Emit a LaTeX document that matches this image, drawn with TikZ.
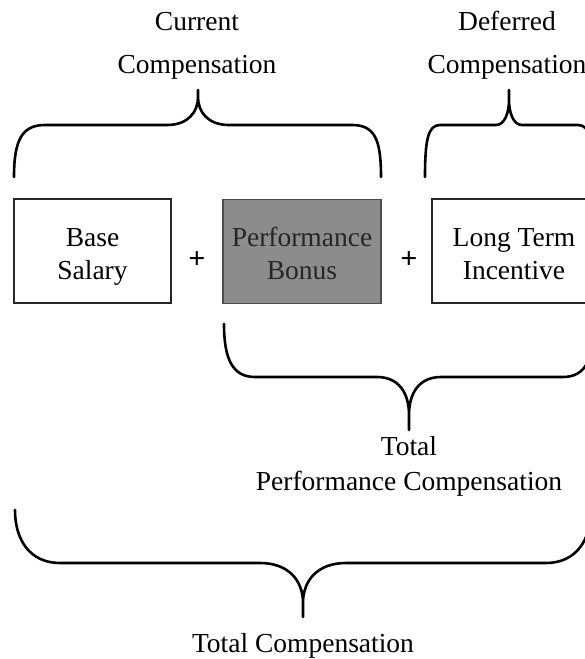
\documentclass[tikz,border=0pt]{standalone}
\usepackage{fontspec}
\setmainfont{Liberation Serif}
\begin{document}
\begin{tikzpicture}[x=1pt,y=-1pt,
  lbl/.style={anchor=base,inner sep=0pt,font=\fontsize{27.5}{33}\selectfont},
  boxtxt/.style={anchor=base,inner sep=0pt,font=\fontsize{27.5}{33}\selectfont},
  plussign/.style={anchor=base,inner sep=0pt,font=\fontsize{30}{33}\selectfont\bfseries},
  box/.style={draw=black!85,line width=1.4pt,minimum height=104pt,inner sep=0pt},
  brace/.style={line width=2.6pt,line cap=round,line join=round}]
\useasboundingbox (0,0) rectangle (585,659);
\clip (0,0) rectangle (585,659);

% boxes
\node[box,minimum width=157pt] (base) at (92.5,251) {};
\node[box,minimum width=158pt,fill=black!45,draw=black!70] (perf) at (302,251.5) {};
\node[box,minimum width=160pt] (lt) at (512,251) {};

\node[boxtxt] (base1) at (92.5,246) {Base};
\node[boxtxt] (base2) at (92.5,279) {Salary};
\node[boxtxt,text=black!85] (perf1) at (302,246) {Performance};
\node[boxtxt,text=black!85] (perf2) at (302,279) {Bonus};
\node[boxtxt] (lt1) at (514,246) {Long Term};
\node[boxtxt] (lt2) at (514,279) {Incentive};

\node[plussign] (plus1) at (197,268) {+};
\node[plussign] (plus2) at (409,268) {+};

% labels
\node[lbl] (cur1) at (197,30) {Current};
\node[lbl] (cur2) at (197,73) {Compensation};
\node[lbl] (def1) at (507,30) {Deferred};
\node[lbl] (def2) at (507,73) {Compensation};
\node[lbl] (tpc1) at (409,455) {Total};
\node[lbl] (tpc2) at (409,490) {Performance Compensation};
\node[lbl] (tc) at (303,652) {Total Compensation};

% braces
\draw[brace] (14,177) .. controls (14,140) and (22,125) .. (45,125) -- (167,125)
  .. controls (188,125) and (198,112) .. (198,97) -- (198,90) -- (198,97)
  .. controls (198,112) and (208,125) .. (229,125) -- (352,125)
  .. controls (375,125) and (381,140) .. (381,177);
\draw[brace] (425,177) .. controls (425,140) and (428,125) .. (440,125) -- (496,125)
  .. controls (505,125) and (509,112) .. (509,100) -- (509,90) -- (509,100)
  .. controls (509,112) and (513,125) .. (522,125) -- (578,125)
  .. controls (590,125) and (593,140) .. (593,177);
\draw[brace] (224,324) .. controls (224,358) and (232,377) .. (255,377) -- (377,377)
  .. controls (398,377) and (409,392) .. (409,415) -- (409,430) -- (409,415)
  .. controls (409,392) and (420,377) .. (441,377) -- (563,377)
  .. controls (586,377) and (594,358) .. (594,324);
\draw[brace] (15,510) .. controls (15,540) and (30,563) .. (60,563) -- (260,563)
  .. controls (288,563) and (303,580) .. (303,603) -- (303,617) -- (303,603)
  .. controls (303,580) and (318,563) .. (346,563) -- (546,563)
  .. controls (576,563) and (591,540) .. (591,510);
\end{tikzpicture}
\end{document}
